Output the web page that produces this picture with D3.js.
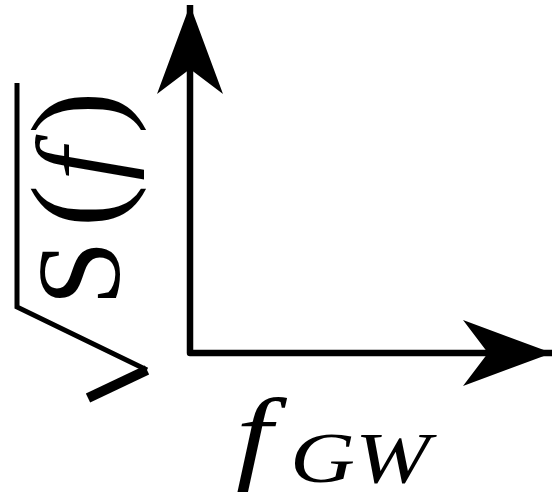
<!DOCTYPE html>
<html>
<head>
<meta charset="utf-8">
<script src="https://cdn.jsdelivr.net/npm/d3@7"></script>
<style>
  body { margin: 0; background: #fff; }
  svg { display: block; }
  text { font-family: "Liberation Serif", "Times New Roman", serif; }
</style>
</head>
<body>
<svg></svg>
<script>
// size of the page
var width = 554,
    height = 498;

// the two axes of the sketch, as fractions of the plot box
var axisStart = [0, 0];
var axisEnd = [1, 1];

// label pieces
var xLabelParts = ["f", "GW"];
var yLabelParts = ["S", "(", "f", ")"];
var yLabelItalic = [false, false, true, false];
var yLabelSize = [118, 128, 118, 128];
var yLabelGap = [0, 13, 4, 14];

var svg = d3.select("svg")
    .attr("width", width)
    .attr("height", height);

var x = d3.scaleLinear().domain([0, 1]).range([190, 552]);
var y = d3.scaleLinear().domain([0, 1]).range([353, 5]);

// arrow head, drawn pointing right, tip at 0,0
var headLen = 89, headHalf = 33, notch = 64;
function arrowHead() {
  return "M0,0 L" + (-headLen) + "," + (-headHalf) +
         " L" + (-notch) + ",0 L" + (-headLen) + "," + headHalf + " Z";
}

// axis lines
svg.append("path")
    .attr("d", "M" + x(axisStart[0]) + "," + y(axisEnd[1] ) +
               " L" + x(axisStart[0]) + "," + y(axisStart[1]) +
               " L" + x(axisEnd[0]) + "," + y(axisStart[1]))
    .attr("fill", "none")
    .attr("stroke", "#000")
    .attr("stroke-width", 6.5)
    .attr("stroke-linejoin", "round");

// heads
svg.append("path")
    .attr("d", arrowHead())
    .attr("transform", "translate(" + x(axisEnd[0]) + "," + y(axisStart[1]) + ")");
svg.append("path")
    .attr("d", arrowHead())
    .attr("transform", "translate(" + x(axisStart[0]) + "," + y(axisEnd[1]) + ") rotate(-90)");

// bottom label f_GW
svg.append("text")
    .attr("transform", "translate(236,470) scale(1.25,1)")
    .style("font-size", "104px")
    .style("font-style", "italic")
    .text(xLabelParts[0]);
svg.append("text")
    .attr("x", 290)
    .attr("y", 482)
    .attr("textLength", 140)
    .attr("lengthAdjust", "spacingAndGlyphs")
    .style("font-size", "72px")
    .style("font-style", "italic")
    .text(xLabelParts[1]);

// left label, sqrt S(f), written sideways
var yl = svg.append("text")
    .attr("transform", "translate(119,306) rotate(-90)");
yl.selectAll("tspan")
    .data(yLabelParts)
    .enter()
    .append("tspan")
    .attr("dx", function(d, i) { return yLabelGap[i]; })
    .style("font-size", function(d, i) { return yLabelSize[i] + "px"; })
    .style("font-style", function(d, i) { return yLabelItalic[i] ? "italic" : "normal"; })
    .text(function(d) { return d; });

// the root sign, also sideways
svg.append("path")
    .attr("d", "M147,370 L17,307 L17,83")
    .attr("fill", "none")
    .attr("stroke", "#000")
    .attr("stroke-width", 5);
svg.append("path")
    .attr("d", "M88,398 L147,370")
    .attr("fill", "none")
    .attr("stroke", "#000")
    .attr("stroke-width", 10);
</script>
</body>
</html>
